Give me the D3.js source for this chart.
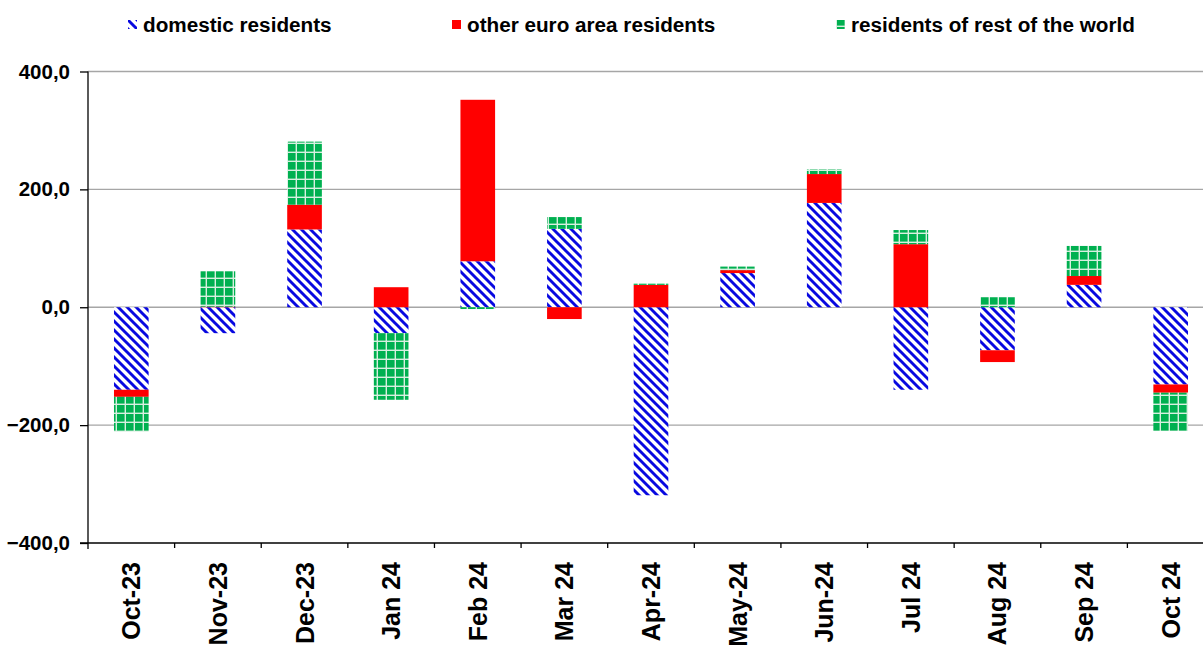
<!DOCTYPE html>
<html>
<head>
<meta charset="utf-8">
<script src="https://cdn.jsdelivr.net/npm/d3@7"></script>
<style>
  body { margin: 0; background: #fff; }
  text { font-family: "Liberation Sans", Arial, sans-serif; font-weight: bold; }
</style>
</head>
<body>
<script>
// values
var months = ["Oct-23", "Nov-23", "Dec-23", "Jan 24", "Feb 24", "Mar 24", "Apr-24", "May-24", "Jun-24", "Jul 24", "Aug 24", "Sep 24", "Oct 24"];
var domestic = [-140, -44, 132, -44, 78, 133, -319, 58, 177, -140, -73, 38, -131];
var otherEuro = [-12, 1, 42, 34, 274, -20, 38, 5, 49, 107, -20, 15, -14];
var restWorld = [-59, 60, 107, -113, -3, 20, 2, 6, 8, 24, 17, 51, -65];
var seriesNames = ["domestic residents", "other euro area residents", "residents of rest of the world"];
var yTicks = [-400, -200, 0, 200, 400];

var width = 1203, height = 649;
var svg = d3.select("body").append("svg").attr("width", width).attr("height", height);

// patterns
var defs = svg.append("defs");
var hatch = defs.append("pattern").attr("id", "hatch").attr("patternUnits", "userSpaceOnUse")
  .attr("width", 9).attr("height", 9);
hatch.append("rect").attr("width", 9).attr("height", 9).attr("fill", "#fff");
hatch.append("path").attr("d", "M-1,-1 L10,10 M-5,4 L5,14 M4,-5 L14,5")
  .attr("stroke", "#0808e0").attr("stroke-width", 2.9);

var grid = defs.append("pattern").attr("id", "grid").attr("patternUnits", "userSpaceOnUse")
  .attr("width", 9).attr("height", 9);
grid.append("rect").attr("width", 9).attr("height", 9).attr("fill", "#d8efe0");
grid.append("rect").attr("x", 0).attr("y", 0).attr("width", 7.6).attr("height", 7.6).attr("fill", "#00b050");

var fills = ["url(#hatch)", "#ff0000", "url(#grid)"];

var x = d3.scaleBand().domain(months).range([88, 1214]).paddingInner(0.6).paddingOuter(0.3);
var xb = d3.scaleBand().domain(months).range([88, 1214]);
var y = d3.scaleLinear().domain([-400, 400]).range([543, 71.5]);

// gridlines
svg.append("g").selectAll("line").data(yTicks.filter(d => d > -400)).enter().append("line")
  .attr("x1", 88).attr("x2", 1214)
  .attr("y1", d => y(d)).attr("y2", d => y(d))
  .attr("stroke", "#a6a6a6").attr("stroke-width", 1.3);

// stacked bars
var rows = months.map((m, i) => ({ m: m, a: domestic[i], b: otherEuro[i], c: restWorld[i] }));
var stack = d3.stack().keys(["a", "b", "c"]).offset(d3.stackOffsetDiverging);
var layers = stack(rows);

svg.append("g").selectAll("g").data(layers).enter().append("g")
  .attr("fill", (d, i) => fills[i])
  .selectAll("rect").data(d => d).enter().append("rect")
  .attr("x", d => x(d.data.m))
  .attr("width", x.bandwidth())
  .attr("y", d => y(Math.max(d[0], d[1])))
  .attr("height", d => Math.abs(y(d[0]) - y(d[1])));

// y axis
var yAxis = svg.append("g").attr("transform", "translate(88,0)")
  .call(d3.axisLeft(y).tickValues(yTicks).tickSize(8).tickPadding(10)
    .tickFormat(d => d3.format(".1f")(d).replace(".", ",")));
yAxis.select(".domain").attr("stroke", "#000").attr("stroke-width", 1.3).attr("d", "M0,71.5V549");
yAxis.selectAll(".tick line").attr("stroke", "#000").attr("stroke-width", 1.3);
yAxis.selectAll(".tick text").attr("font-size", 20.5).attr("fill", "#000");

// x axis
var xAxis = svg.append("g").attr("transform", "translate(0,543)");
xAxis.append("line").attr("x1", 80).attr("x2", 1214).attr("stroke", "#000").attr("stroke-width", 1.3);
xAxis.selectAll(".xt").data(months).enter().append("line").attr("class", "xt")
  .attr("x1", d => xb(d) + xb.bandwidth()).attr("x2", d => xb(d) + xb.bandwidth())
  .attr("y1", 0).attr("y2", 5).attr("stroke", "#000").attr("stroke-width", 1.3);
xAxis.selectAll(".xl").data(months).enter().append("text").attr("class", "xl")
  .attr("transform", d => "translate(" + (xb(d) + xb.bandwidth() / 2 + 9) + ",19) rotate(-90)")
  .attr("text-anchor", "end")
  .attr("font-size", 25)
  .text(d => d);

// legend
var legX = [128, 452, 836];
var leg = svg.append("g");
seriesNames.forEach(function (name, i) {
  leg.append("rect").attr("x", legX[i]).attr("y", 20).attr("width", 9).attr("height", 9)
    .attr("fill", fills[i]);
  leg.append("text").attr("x", legX[i] + 15).attr("y", 32).attr("font-size", 20.7).text(name);
});
</script>
</body>
</html>
